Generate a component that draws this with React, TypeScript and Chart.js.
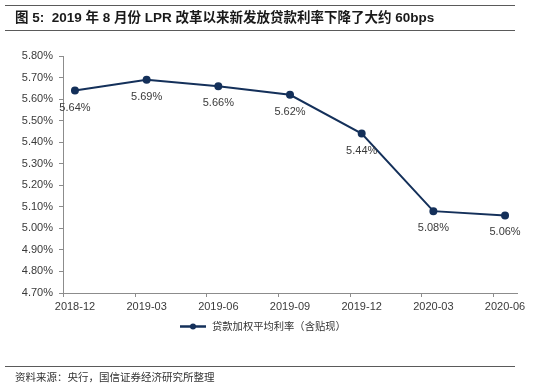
import React, { useEffect, useRef } from "react";
import { Chart, registerables } from "chart.js";

Chart.register(...registerables);

const title = "图 5:  2019 年 8 月份 LPR 改革以来新发放贷款利率下降了大约 60bps";
const source = "资料来源：央行，国信证券经济研究所整理";
const seriesName = "贷款加权平均利率（含贴现）";
const categories = ["2018-12", "2019-03", "2019-06", "2019-09", "2019-12", "2020-03", "2020-06"];
const rates = [5.64, 5.69, 5.66, 5.62, 5.44, 5.08, 5.06];
// months since 2018-12 for each category (observation at mid-month)
const monthOffsets = [0, 3, 6, 9, 12, 15, 18];
const yMin = 4.7;
const yMax = 5.8;
const yStep = 0.1;

const LINE_COLOR = "#14305a";
const TEXT_COLOR = "#3a3a3a";
const AXIS_COLOR = "#8c8c8c";
const LATIN = '"Liberation Sans", Arial, "Noto Sans CJK SC", sans-serif';

const decor = {
  id: "decor",
  afterDraw(chart: any) {
    const ctx = chart.ctx as CanvasRenderingContext2D;
    ctx.save();
    const hline = (y: number) => {
      ctx.beginPath();
      ctx.moveTo(5, y);
      ctx.lineTo(515, y);
      ctx.stroke();
    };
    ctx.strokeStyle = "#5a5a5a";
    ctx.lineWidth = 1;
    hline(5.5);
    hline(30.5);
    hline(366.5);

    ctx.fillStyle = "#1a1a1a";
    ctx.textBaseline = "middle";
    ctx.textAlign = "left";
    ctx.font = 'bold 13.5px "Liberation Sans", Arial, "Noto Sans CJK SC", sans-serif';
    ctx.fillText(title, 15, 18);

    ctx.fillStyle = "#333";
    ctx.font = '10.5px "Noto Sans CJK SC", sans-serif';
    ctx.fillText(source, 15, 377);

    // x tick marks at month boundaries
    const xs = chart.scales.x;
    const bottom = chart.chartArea.bottom;
    ctx.strokeStyle = AXIS_COLOR;
    monthOffsets.forEach((m) => {
      const px = Math.round(xs.getPixelForValue(m)) + 0.5;
      ctx.beginPath();
      ctx.moveTo(px, bottom);
      ctx.lineTo(px, bottom + 4);
      ctx.stroke();
    });

    // data labels
    const meta = chart.getDatasetMeta(0);
    ctx.fillStyle = TEXT_COLOR;
    ctx.font = "11px " + LATIN;
    ctx.textAlign = "center";
    meta.data.forEach((pt: any, i: number) => {
      ctx.fillText(rates[i].toFixed(2) + "%", pt.x, pt.y + 17);
    });

    // legend
    const ly = 326.5;
    ctx.strokeStyle = LINE_COLOR;
    ctx.lineWidth = 2.5;
    ctx.beginPath();
    ctx.moveTo(180, ly);
    ctx.lineTo(206, ly);
    ctx.stroke();
    ctx.fillStyle = LINE_COLOR;
    ctx.beginPath();
    ctx.arc(193, ly, 3, 0, Math.PI * 2);
    ctx.fill();
    ctx.fillStyle = "#333";
    ctx.textAlign = "left";
    ctx.font = '10.3px "Noto Sans CJK SC", sans-serif';
    ctx.fillText(seriesName, 212, ly);
    ctx.restore();
  },
};

export default function App() {
  const ref = useRef<HTMLCanvasElement>(null);
  useEffect(() => {
    document.body.style.margin = "0";
    const chart = new Chart(ref.current!, {
      type: "line",
      data: {
        datasets: [
          {
            label: seriesName,
            data: rates.map((v, i) => ({ x: monthOffsets[i] + 0.5, y: v })),
            borderColor: LINE_COLOR,
            backgroundColor: LINE_COLOR,
            borderWidth: 2,
            pointRadius: 3,
            pointBackgroundColor: LINE_COLOR,
            pointBorderColor: LINE_COLOR,
            tension: 0,
          },
        ],
      },
      options: {
        animation: false,
        responsive: false,
        layout: { padding: { left: 0, right: 33, top: 56, bottom: 75 } },
        plugins: {
          legend: { display: false },
          tooltip: { enabled: false },
          title: { display: false },
        },
        scales: {
          x: {
            type: "linear",
            min: 0,
            max: 19,
            afterBuildTicks: (s: any) => {
              s.ticks = monthOffsets.map((m) => ({ value: m + 0.5 }));
            },
            afterFit: (s: any) => {
              s.height = 20;
            },
            ticks: {
              autoSkip: false,
              maxRotation: 0,
              padding: 7,
              color: TEXT_COLOR,
              font: { family: LATIN, size: 11 },
              callback: (v: any) => {
                const idx = monthOffsets.indexOf(Math.round(Number(v) - 0.5));
                return idx >= 0 ? categories[idx] : "";
              },
            },
            grid: { display: true, drawOnChartArea: false, drawTicks: false },
            border: { display: true, color: AXIS_COLOR, width: 1 },
          },
          y: {
            min: yMin,
            max: yMax,
            afterFit: (s: any) => {
              s.width = 63;
            },
            ticks: {
              stepSize: yStep,
              padding: 6,
              color: TEXT_COLOR,
              font: { family: LATIN, size: 11 },
              callback: (v: any) => Number(v).toFixed(2) + "%",
            },
            grid: {
              display: true,
              drawOnChartArea: false,
              drawTicks: true,
              tickLength: 4,
              color: AXIS_COLOR,
            },
            border: { display: true, color: AXIS_COLOR, width: 1 },
          },
        },
      },
      plugins: [decor],
    });
    return () => chart.destroy();
  }, []);
  return (
    <div style={{ width: 550, height: 388, background: "#fff" }}>
      <canvas ref={ref} width={550} height={388} />
    </div>
  );
}
